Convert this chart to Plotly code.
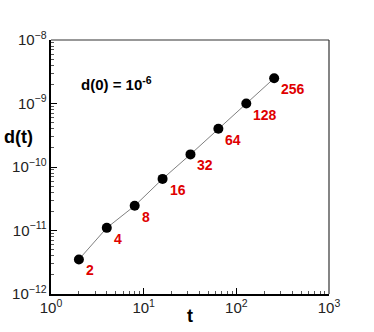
import math
import plotly.graph_objects as go

# separation d(t) at doubling times, d(0) = 1e-6
t = [2, 4, 8, 16, 32, 64, 128, 256]
d = [3.5e-12, 1.1e-11, 2.45e-11, 6.5e-11, 1.58e-10, 4.0e-10, 1.0e-9, 2.5e-9]
labels = [str(v) for v in t]

font = "Liberation Sans, Arial, sans-serif"

fig = go.Figure()
fig.add_trace(go.Scatter(
    x=t, y=d, mode="lines+markers",
    line=dict(color="#808080", width=1),
    marker=dict(color="black", size=10),
    showlegend=False,
))

# red point labels, below-right of each marker (log axes -> annotation coords in log10)
for xi, yi, lab in zip(t, d, labels):
    fig.add_annotation(x=math.log10(xi), y=math.log10(yi), xref="x", yref="y",
                       text="<b>%s</b>" % lab,
                       showarrow=False, xanchor="left", yanchor="middle",
                       xshift=5, yshift=-11,
                       font=dict(family=font, size=14, color="#e00000"))

axis_common = dict(
    type="log", showgrid=False, zeroline=False,
    showline=True, linecolor="black", linewidth=2,
    dtick=1, exponentformat="power", showexponent="all",
    ticks="inside", ticklen=6, tickcolor="black", tickwidth=1,
    tickfont=dict(family=font, size=12, color="#222"),
    minor=dict(ticks="inside", ticklen=3, tickcolor="#555", dtick="D1", showgrid=False),
)

fig.update_xaxes(range=[0, 3],
                 labelalias={"1": "10<sup>0</sup>", "10": "10<sup>1</sup>"},
                 **axis_common)
fig.update_yaxes(range=[-12, -8], **axis_common)

# thin frame on top and right
fig.add_shape(type="line", xref="paper", yref="paper", x0=0, x1=1, y0=1, y1=1,
              line=dict(color="#333", width=1.2))
fig.add_shape(type="line", xref="paper", yref="paper", x0=1, x1=1, y0=0, y1=1,
              line=dict(color="#333", width=1.2))

fig.add_annotation(x=-0.057, y=0.62, xref="paper", yref="paper", text="<b>d(t)</b>",
                   showarrow=False, xanchor="right", yanchor="middle",
                   font=dict(family=font, size=18, color="black"))
fig.add_annotation(x=0.5, y=-0.087, xref="paper", yref="paper", text="<b>t</b>",
                   showarrow=False, xanchor="center", yanchor="middle",
                   font=dict(family=font, size=18, color="black"))
fig.add_annotation(x=0.1, y=0.827, xref="paper", yref="paper",
                   text="<b>d(0) = 10<sup>-6</sup></b>",
                   showarrow=False, xanchor="left", yanchor="middle",
                   font=dict(family=font, size=15, color="black"))

fig.update_layout(
    width=374, height=332,
    margin=dict(l=49, r=45, t=40, b=38),
    plot_bgcolor="white", paper_bgcolor="white",
)

fig.write_html("out.html", config={"displayModeBar": False},
               post_script="document.body.style.margin='0';")
